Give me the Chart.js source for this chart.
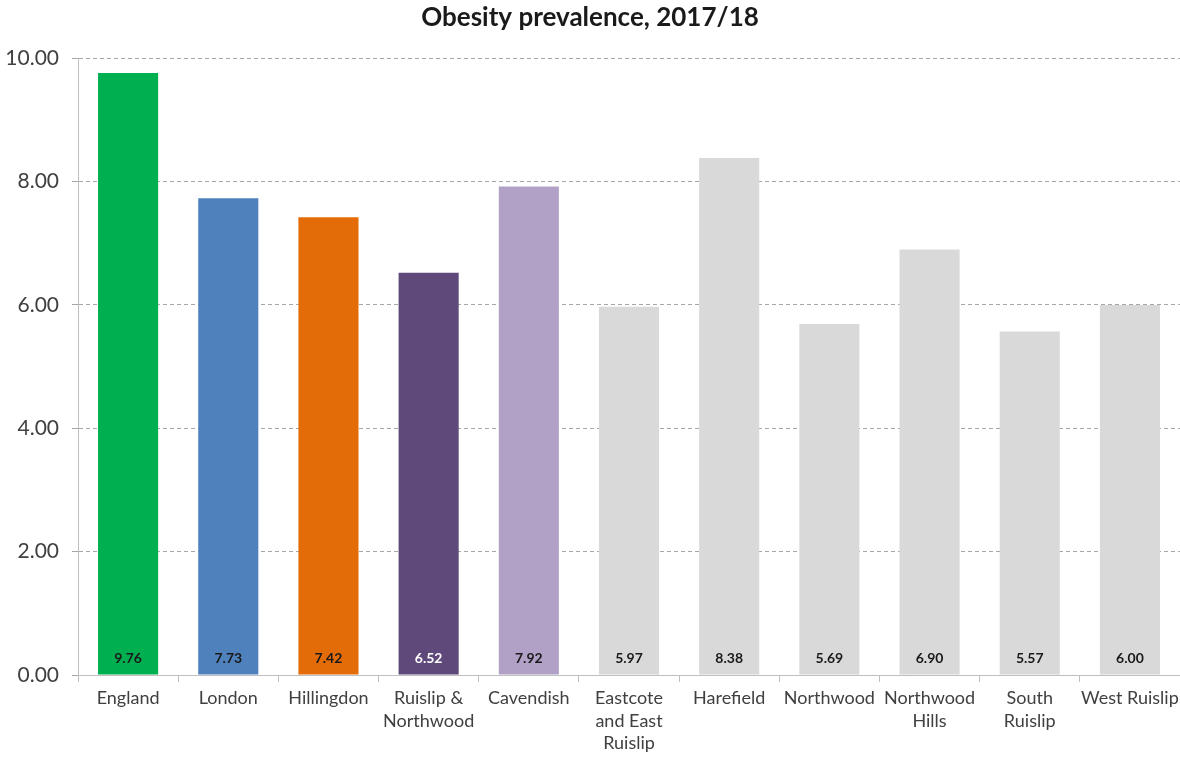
<!DOCTYPE html>
<html>
<head>
<meta charset="utf-8">
<script src="https://cdn.jsdelivr.net/npm/chart.js@4/dist/chart.umd.min.js"></script>
<style>
html,body{margin:0;padding:0;background:#fff;}
#wrap{width:1180px;height:758px;}
</style>
</head>
<body>
<div id="wrap"><canvas id="c" width="1180" height="758"></canvas></div>
<script>
const categories = ["England","London","Hillingdon",["Ruislip &","Northwood"],"Cavendish",["Eastcote","and East","Ruislip"],"Harefield","Northwood",["Northwood","Hills"],["South","Ruislip"],"West Ruislip"];
const values = [9.76,7.73,7.42,6.52,7.92,5.97,8.38,5.69,6.90,5.57,6.00];
const barColors = ["#00b050","#4f81bd","#e36c09","#5f497a","#b2a1c7","#d9d9d9","#d9d9d9","#d9d9d9","#d9d9d9","#d9d9d9","#d9d9d9"];
const labelColors = ["#1a1a1a","#1a1a1a","#1a1a1a","#ffffff","#1a1a1a","#1a1a1a","#1a1a1a","#1a1a1a","#1a1a1a","#1a1a1a","#1a1a1a"];
const yTicks = [0,2,4,6,8,10];
const titleText = "Obesity prevalence, 2017/18";

const FONT = "Lato, 'Open Sans', sans-serif";

const valueLabels = {
  id: 'valueLabels',
  afterDatasetsDraw(chart) {
    const ctx = chart.ctx;
    const meta = chart.getDatasetMeta(0);
    const yScale = chart.scales.y;
    ctx.save();
    ctx.font = "bold 14px " + FONT;
    ctx.textAlign = 'center';
    ctx.textBaseline = 'middle';
    meta.data.forEach((bar, i) => {
      ctx.fillStyle = labelColors[i];
      ctx.fillText(values[i].toFixed(2), bar.x, yScale.getPixelForValue(0) - 17);
    });
    ctx.restore();
  }
};

new Chart(document.getElementById('c'), {
  type: 'bar',
  data: {
    labels: categories,
    datasets: [{
      data: values,
      backgroundColor: barColors,
      borderWidth: 0,
      barPercentage: 0.6,
      categoryPercentage: 1.0
    }]
  },
  options: {
    responsive: false,
    animation: false,
    layout: { padding: { left: 0, right: 0, top: 0, bottom: 0 } },
    plugins: {
      legend: { display: false },
      tooltip: { enabled: false },
      title: {
        display: true,
        text: titleText,
        color: '#1a1a1a',
        font: { family: FONT, size: 26, weight: 'bold', lineHeight: 1.2 },
        padding: { top: 2, bottom: 25 }
      }
    },
    scales: {
      x: {
        grid: { display: true, drawOnChartArea: false, drawTicks: true, tickLength: 7, color: '#bfbfbf', offset: true },
        border: { display: true, color: '#bfbfbf', width: 1 },
        ticks: {
          color: '#404040',
          font: { family: FONT, size: 18, lineHeight: 1.25 },
          padding: 5,
          maxRotation: 0,
          autoSkip: false
        },
        afterFit(scale) { scale.height = 83; scale.paddingRight = 0; scale.paddingLeft = 0; }
      },
      y: {
        min: 0,
        max: 10,
        afterBuildTicks(scale) { scale.ticks = yTicks.map(v => ({ value: v })); },
        grid: { color: '#a6a6a6', drawTicks: true, tickLength: 6, lineWidth: 1 },
        border: { display: true, color: '#bfbfbf', width: 1, dash: [4, 3] },
        ticks: {
          color: '#404040',
          font: { family: FONT, size: 21 },
          padding: 13,
          callback: v => Number(v).toFixed(2)
        },
        afterFit(scale) { scale.width = 78; scale.paddingTop = 0; scale.paddingBottom = 0; }
      }
    }
  },
  plugins: [valueLabels]
});
</script>
</body>
</html>
